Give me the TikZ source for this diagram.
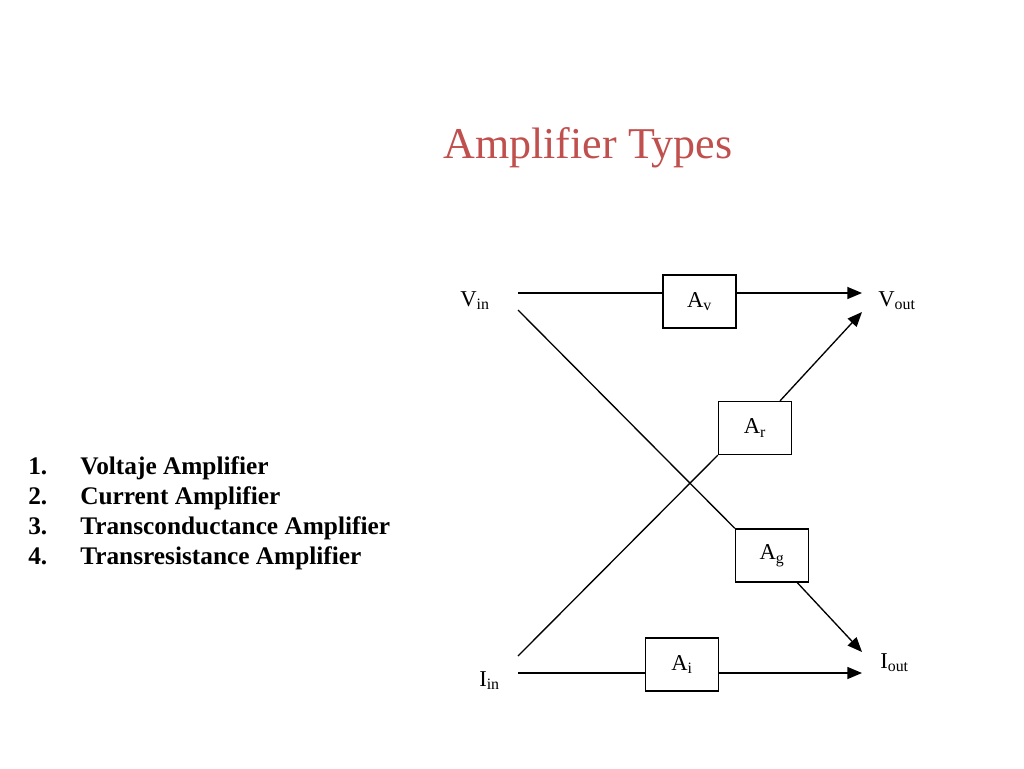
\documentclass[tikz,border=0pt]{standalone}
\usepackage{fontspec}
\setmainfont{Liberation Serif}
\usetikzlibrary{arrows.meta}
\definecolor{titleRed}{HTML}{C0504D}
\newcommand{\labelSize}[0]{\fontsize{17}{20}\selectfont}
\newcommand{\listSize}[0]{\fontsize{19}{22}\selectfont\bfseries}

\begin{document}
\begin{tikzpicture}[x=0.75pt, y=-0.75pt]
  \tikzset{gain box/.style={draw, line width=1pt, minimum width=54.75pt, minimum height=39.75pt, inner sep=0pt, font=\labelSize},
           port/.style={anchor=base west, inner sep=0pt, font=\labelSize},
           signal/.style={line width=1pt, -{Triangle[length=11pt, width=9pt]}},
           wire/.style={line width=1pt}}
  \useasboundingbox (0,0) rectangle (1024,768);
  \node[anchor=base, text=titleRed, font=\fontsize{33}{40}\selectfont] (title) at (588,158) {Amplifier Types};
  % list of types
  \foreach \n/\name [count=\i] in {1/Voltaje Amplifier, 2/Current Amplifier, 3/Transconductance Amplifier, 4/Transresistance Amplifier} {
    \node[anchor=base west, inner sep=0pt, font=\listSize] (num\i) at (28,444+30*\i) {\n.};
    \node[anchor=base west, inner sep=0pt, font=\listSize] (item\i) at (80,444+30*\i) {\name};
  }
  % ports
  \node[port] (vin) at (460,306) {V\textsubscript{in}};
  \node[port] (vout) at (878,306) {V\textsubscript{out}};
  \node[port] (iin) at (479,686) {I\textsubscript{in}};
  \node[port] (iout) at (880,668) {I\textsubscript{out}};
  \coordinate (vinA) at (518,293);
  \coordinate (vinB) at (518,310);
  \coordinate (voutA) at (862,293);
  \coordinate (voutB) at (862,312);
  \coordinate (iinA) at (518,673);
  \coordinate (iinB) at (518,656);
  \coordinate (ioutA) at (862,673);
  \coordinate (ioutB) at (862,652);
  % gain blocks
  \node[gain box] (av) at (699.5,301.5) {A\textsubscript{v}};
  \node[gain box] (ar) at (755,428) {A\textsubscript{r}};
  \node[gain box] (ag) at (772,555.5) {A\textsubscript{g}};
  \node[gain box] (ai) at (682,664.5) {A\textsubscript{i}};
  \draw[wire] (vinA) -- (vinA -| av.west);
  \draw[signal] (vinA -| av.east) -- (voutA);
  \draw[wire] (iinA) -- (iinA -| ai.west);
  \draw[signal] (iinA -| ai.east) -- (ioutA);
  \draw[wire] (vinB) -- (ag.north west);
  \draw[signal] (ag) -- (ioutB);
  \draw[wire] (iinB) -- (ar.south west);
  \draw[signal] (ar) -- (voutB);
\end{tikzpicture}
\end{document}
